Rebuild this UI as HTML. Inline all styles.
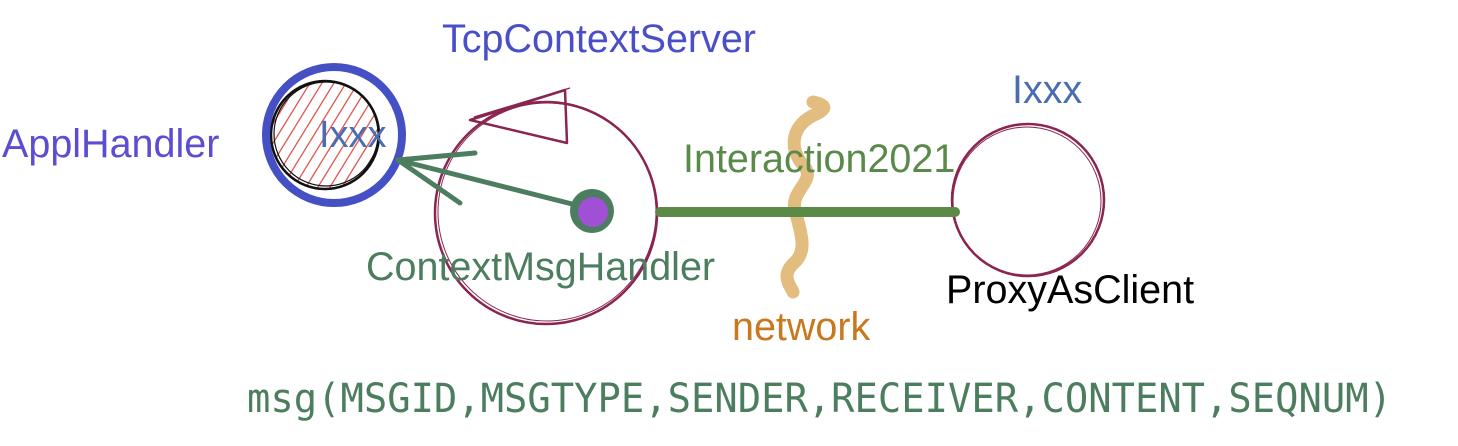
<!DOCTYPE html>
<html><head><meta charset="utf-8"><style>
html,body{margin:0;padding:0;background:#fff;width:1458px;height:446px;overflow:hidden}
svg{display:block}
text{font-family:"Liberation Sans",sans-serif}
</style></head><body>
<svg width="1458" height="446" viewBox="0 0 1458 446" xmlns="http://www.w3.org/2000/svg">
<defs><clipPath id="cc"><circle cx="325" cy="135" r="53"/></clipPath></defs>
<g clip-path="url(#cc)" stroke="#e0564f" stroke-width="1.3">
<g id="h">
<line x1="250" y1="200" x2="330" y2="70"/><line x1="262" y1="200" x2="342" y2="70"/><line x1="274" y1="200" x2="354" y2="70"/><line x1="286" y1="200" x2="366" y2="70"/><line x1="298" y1="200" x2="378" y2="70"/><line x1="310" y1="200" x2="390" y2="70"/><line x1="322" y1="200" x2="402" y2="70"/><line x1="334" y1="200" x2="414" y2="70"/><line x1="238" y1="200" x2="318" y2="70"/><line x1="226" y1="200" x2="306" y2="70"/><line x1="214" y1="200" x2="294" y2="70"/><line x1="346" y1="200" x2="426" y2="70"/><line x1="358" y1="200" x2="438" y2="70"/>
</g>
</g>
<circle cx="325" cy="135" r="54" fill="none" stroke="#111" stroke-width="2.5"/>
<circle cx="326" cy="134" r="52" fill="none" stroke="#111" stroke-width="1.2"/>
<circle cx="334" cy="135" r="68" fill="none" stroke="#4550c4" stroke-width="8"/>
<text x="319" y="147" font-size="38" fill="#4a6cb0">Ixxx</text>
<circle cx="546" cy="213" r="111" fill="none" stroke="#8a2450" stroke-width="2.5"/>
<circle cx="547" cy="212" r="109" fill="none" stroke="#8a2450" stroke-width="1"/>
<polygon points="470,120 565,90 567,143" fill="none" stroke="#8a2450" stroke-width="2.5" stroke-linejoin="round"/>
<polyline points="474,117 570,88" fill="none" stroke="#8a2450" stroke-width="1.2"/>
<line x1="580" y1="206" x2="398" y2="160" stroke="#4b7d5e" stroke-width="5" stroke-linecap="round"/>
<line x1="398" y1="160" x2="475" y2="153" stroke="#4b7d5e" stroke-width="5" stroke-linecap="round"/>
<line x1="398" y1="160" x2="460" y2="203" stroke="#4b7d5e" stroke-width="5" stroke-linecap="round"/>
<circle cx="592" cy="211" r="22" fill="#4b7d5e"/>
<circle cx="593" cy="212" r="15" fill="#a050d4"/>
<circle cx="1028" cy="200" r="76" fill="none" stroke="#8a2450" stroke-width="2.5"/>
<circle cx="1027" cy="201" r="74" fill="none" stroke="#8a2450" stroke-width="1"/>
<path d="M813,102 C830,106 825,110 812,116 C790,128 790,150 803,165 C818,180 790,190 795,210 C800,230 808,250 795,262 C780,275 790,285 793,292" fill="none" stroke="#e3bd7f" stroke-width="13" stroke-linecap="round" stroke-linejoin="round"/>
<line x1="660" y1="212" x2="955" y2="212" stroke="#5a8a46" stroke-width="10" stroke-linecap="round"/>
<text x="442" y="52" font-size="39.5" fill="#4a4fc8">TcpContextServer</text>
<text x="2" y="157" font-size="39.5" fill="#5b4ed0">ApplHandler</text>
<text x="683" y="172" font-size="39.5" fill="#5a8a4a">Interaction2021</text>
<text x="366" y="280" font-size="39.5" fill="#4b7d5e">ContextMsgHandler</text>
<text x="732" y="340" font-size="39.5" fill="#c8781e">network</text>
<text x="946" y="303" font-size="39.5" fill="#000">ProxyAsClient</text>
<text x="1012" y="103" font-size="39.5" fill="#4a6cb0">Ixxx</text>
<text x="247" y="412" font-size="40" fill="#4b7d5e" textLength="1145" lengthAdjust="spacingAndGlyphs" style="font-family:'DejaVu Sans Mono','Liberation Mono',monospace">msg(MSGID,MSGTYPE,SENDER,RECEIVER,CONTENT,SEQNUM)</text>
</svg>
</body></html>
